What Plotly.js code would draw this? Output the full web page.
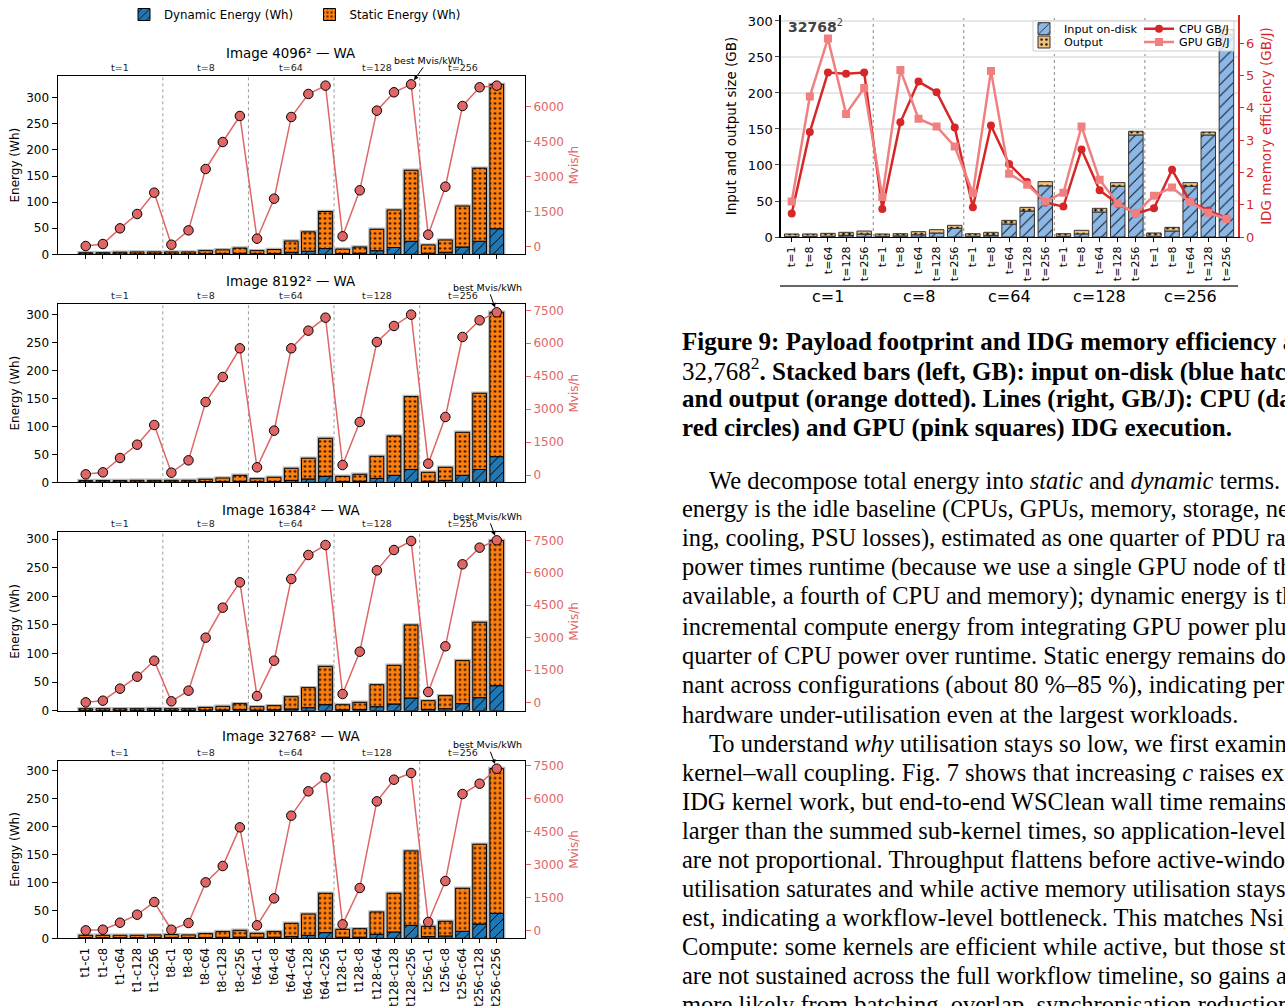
<!DOCTYPE html>
<html><head><meta charset="utf-8">
<script src="https://cdn.plot.ly/plotly-3.0.1.min.js"></script>
<style>html,body{margin:0;padding:0;background:#fff}#chart{width:1285px;height:1006px}</style>
</head><body><div id="chart"></div>
<script>
// ---------------- DATA ----------------
const runLabels = ['t1-c1','t1-c8','t1-c64','t1-c128','t1-c256','t8-c1','t8-c8','t8-c64','t8-c128','t8-c256',
  't64-c1','t64-c8','t64-c64','t64-c128','t64-c256','t128-c1','t128-c8','t128-c64','t128-c128','t128-c256',
  't256-c1','t256-c8','t256-c64','t256-c128','t256-c256'];
const tGroups = ['t=1','t=8','t=64','t=128','t=256'];
const cGroups = ['c=1','c=8','c=64','c=128','c=256'];

// Energy (Wh): dynamic and static parts; throughput (Mvis/h)
const dyn4096 = [0.5,0.5,0.6,0.7,0.8, 0.6,0.7,1.0,1.2,1.8, 1.0,1.5,4,6,11, 1.5,2,7,13,25, 2,4,14,25,49];
const sta4096 = [2.5,2.5,3.4,3.8,3.7, 3.9,3.8,6.0,7.3,10.2, 6.0,7.5,21.5,37,71, 8.5,12,41,72,136, 16,23.5,78.5,140,276.5];
const mvis4096 = [28,114,784,1397,2309, 85,698,3320,4474,5587, 342,2052,5544,6527,6883, 442,2408,5815,6599,6940, 513,2565,6013,6812,6883];

const dyn8192 = [0.5,0.5,0.5,0.6,0.7, 0.6,0.7,1.0,1.2,1.8, 1.0,1.5,3.5,6,10.7, 1.5,2,7,12.5,23, 2,3.5,12.5,23,45.8];
const sta8192 = [2.5,2.5,2.5,2.9,2.8, 2.9,2.8,4.4,6.5,10.7, 5.5,7.5,21.5,37,67.8, 9.2,12.3,39.4,70.2,130, 15.9,23.3,76.8,136,257.8];
const mvis8192 = [30,121,774,1381,2277, 106,668,3325,4463,5769, 349,2019,5769,6573,7165, 455,2414,6057,6786,7302, 516,2641,6285,7044,7408];

const dyn16384 = [0.5,0.5,0.5,0.6,0.7, 0.6,0.7,1.0,1.2,1.8, 1.0,1.5,3,5.3,10.5, 1.5,2,7,11.7,22.2, 2.3,3.5,12.3,22.8,43.8];
const sta16384 = [3.0,3.0,3.0,2.9,3.3, 2.9,2.8,4.8,6.4,10.5, 6.0,7.3,21.5,35,67.1, 9.0,12.6,38.5,67.7,127.8, 15.2,22.8,75.3,131.9,253.9];
const mvis16384 = [15,92,647,1201,1940, 62,554,3003,4389,5560, 308,1940,5714,6822,7284, 400,2356,6114,7053,7469, 493,2603,6391,7161,7500];

const dyn32768 = [1,1,1,1,1.2, 1.2,1.2,1.5,1.8,2.2, 2,2,3,5.4,10.2, 2,2,7.2,11.4,23.3, 3,4.2,12.6,25.7,44.8];
const sta32768 = [4.4,4.4,4.4,4.4,4.8, 5.4,4.8,6.9,10.2,12.1, 7,10,23.9,38.2,70.5, 14.1,15.3,40,69.3,133.3, 18.5,26.3,77.1,142.9,259.4];
const mvis32768 = [15,45,363,726,1300, 45,348,2192,2933,4687, 242,1467,5216,6320,6940, 287,1935,5866,6849,7152, 393,2253,6199,6667,7348];

// Figure 9 (32768^2): sizes in GB, efficiency in GB/J; order c=1..256, within each t=1..256
const inputGB  = [0.5,0.8,1,2,4, 1,1.5,3,5.5,12, 1,2,18,36,71, 1,4.2,34.7,70.4,141.7, 1,8.3,70.4,141.7,281];
const outputGB = [3.7,3.4,4.1,4.5,4.3, 3.2,3.1,4.4,4.7,4.2, 3.6,4.5,5.1,5.2,5.9, 3.6,5.1,5.1,5.1,5.1, 4.6,5.1,5.1,4.1,7];
const cpuGBJ = [0.73,3.25,5.09,5.05,5.09, 0.87,3.55,4.81,4.48,3.39, 0.92,3.45,2.26,1.70,1.07, 0.94,2.71,1.45,1.02,0.73, 0.89,2.08,1.09,0.82,0.58];
const gpuGBJ = [1.10,4.35,6.14,3.81,4.61, 1.24,5.17,3.66,3.42,2.80, 1.36,5.14,1.96,1.62,1.10, 1.37,3.42,1.77,1.04,0.73, 1.28,1.53,1.08,0.75,0.56];

// ---------------- BUILD ----------------
const FONT = 'DejaVu Sans';
const SERIF = 'Liberation Serif';
const W = 1285, H = 1006;
const px = v => v / W, py = v => 1 - v / H;
const idx = runLabels.map((_, i) => i);
const seps = [4.5, 9.5, 14.5, 19.5];
const MV = '#e06666';
const BLUE = '#1f77b4', ORANGE = '#ff7f0e', INBLUE = '#8cb8e8', OUTTAN = '#f0c27c';

const panels = [
  {size:'4096', dyn:dyn4096, sta:sta4096, mvis:mvis4096, top:76, bot:254.3, yMax:341.6, y2:[-325,7295], titleY:53.3, best:19, ax:17, ay:-24},
  {size:'8192', dyn:dyn8192, sta:sta8192, mvis:mvis8192, top:304, bot:482.3, yMax:318.4, y2:[-332,7787], titleY:281.7, best:24, ax:-9, ay:-25},
  {size:'16384', dyn:dyn16384, sta:sta16384, mvis:mvis16384, top:532.3, bot:710.7, yMax:312, y2:[-370,7870], titleY:510, best:24, ax:-9, ay:-24},
  {size:'32768', dyn:dyn32768, sta:sta32768, mvis:mvis32768, top:760.7, bot:938.3, yMax:318.4, y2:[-345,7710], titleY:736.7, best:24, ax:-9, ay:-24}
];

const traces = [];
const layout = {
  width: W, height: H, margin: {l:0, r:0, t:0, b:0}, autosize: false,
  paper_bgcolor: '#fff', plot_bgcolor: 'rgba(0,0,0,0)', barmode: 'overlay',
  font: {family: FONT, color: '#000'}, showlegend: true,
  shapes: [], annotations: []
};

panels.forEach((p, i) => {
  const k = i + 1;
  const xa = k === 1 ? 'x' : 'x' + k;
  const ya = k === 1 ? 'y' : 'y' + k;
  const ya2 = 'y' + (k + 4);
  const tot = p.dyn.map((d, j) => d + p.sta[j]);
  traces.push({type:'bar', x:idx, y:tot, base:0, width:0.8, xaxis:xa, yaxis:ya, showlegend:false, hoverinfo:'skip',
    marker:{color:'rgba(0,0,0,0)', line:{color:'#b8b8b8', width:3.5}}});
  traces.push({type:'bar', x:idx, y:p.dyn, base:0, width:0.8, xaxis:xa, yaxis:ya, name:'Dynamic Energy (Wh)',
    legend:'legend', showlegend:k === 1,
    marker:{color:BLUE, line:{color:'#000', width:1},
      pattern:{shape:'/', fgcolor:'#000', bgcolor:BLUE, fillmode:'replace', size:7, solidity:0.14}}});
  traces.push({type:'bar', x:idx, y:p.sta, base:p.dyn, width:0.8, xaxis:xa, yaxis:ya, name:'Static Energy (Wh)',
    legend:'legend', showlegend:k === 1,
    marker:{color:ORANGE, line:{color:'#000', width:1},
      pattern:{shape:'.', fgcolor:'#000', bgcolor:ORANGE, fillmode:'replace', size:5, solidity:0.16}}});
  traces.push({type:'scatter', mode:'lines+markers', x:idx, y:p.mvis, xaxis:xa, yaxis:ya2, showlegend:false,
    line:{color:MV, width:1.5}, marker:{size:9.5, color:MV, line:{color:'#000', width:1}}});

  const dom = [py(p.bot), py(p.top)];
  layout['xaxis' + (k === 1 ? '' : k)] = {
    domain:[px(57.5), px(525)], range:[-1.65, 25.65], anchor:ya, tickmode:'array', tickvals:idx,
    ticktext: k === 4 ? runLabels : idx.map(() => ' '), showticklabels: k === 4, tickangle:-90,
    ticks:'outside', ticklen:4, tickcolor:'#000', showline:true, linecolor:'#000', linewidth:1, mirror:true,
    showgrid:false, zeroline:false, tickfont:{size:11.5, family:FONT, color:'#000'}
  };
  layout['yaxis' + (k === 1 ? '' : k)] = {
    domain:dom, range:[0, p.yMax], anchor:xa, tickmode:'array', tickvals:[0,50,100,150,200,250,300],
    ticks:'outside', ticklen:5, tickcolor:'#000', showline:true, linecolor:'#000', showgrid:false, zeroline:false,
    tickfont:{size:12, family:FONT}, title:{text:'Energy (Wh)', font:{size:12, family:FONT}, standoff:3}
  };
  const rt = [0,1500,3000,4500,6000,7500].filter(v => v <= p.y2[1]);
  layout['yaxis' + (k + 4)] = {
    overlaying:ya, side:'right', anchor:xa, range:p.y2, tickmode:'array', tickvals:rt,
    ticks:'outside', ticklen:5, tickcolor:MV, showline:true, linecolor:'#000', showgrid:false, zeroline:false,
    tickfont:{size:12, family:FONT, color:MV}, title:{text:'Mvis/h', font:{size:12, family:FONT, color:MV}, standoff:6}
  };
  seps.forEach(s => layout.shapes.push({type:'line', xref:xa, yref:ya + ' domain', x0:s, x1:s, y0:0, y1:1,
    layer:'below', line:{color:'#999', width:1, dash:'dot'}}));
  tGroups.forEach((g, j) => layout.annotations.push({xref:xa, yref:ya + ' domain', x:j * 5 + 2, y:1, yanchor:'bottom',
    xanchor:'center', yshift:1, showarrow:false, text:g, font:{size:9.5, family:FONT, color:'#222'}}));
  layout.annotations.push({xref:'paper', yref:'paper', x:(px(57.5) + px(525)) / 2, y:py(p.titleY), yanchor:'middle',
    xanchor:'center', showarrow:false, text:'Image ' + p.size + '² — WA', font:{size:13.4, family:FONT}});
  layout.annotations.push({xref:xa, yref:ya2, x:p.best, y:p.mvis[p.best], ax:p.ax, ay:p.ay, showarrow:true,
    arrowhead:2, arrowsize:0.9, arrowwidth:1, arrowcolor:'#000', standoff:5, text:'best Mvis/kWh',
    font:{size:9.5, family:FONT, color:'#000'}});
});

// Figure 9 chart
const figTicks = cGroups.flatMap(() => tGroups);
traces.push({type:'bar', x:idx, y:inputGB, base:0, width:0.8, xaxis:'x5', yaxis:'y9', name:'Input on-disk', legend:'legend2',
  marker:{color:INBLUE, line:{color:'#333', width:1},
    pattern:{shape:'/', fgcolor:'#111', bgcolor:INBLUE, fillmode:'replace', size:8, solidity:0.12}}});
traces.push({type:'scatter', mode:'lines+markers', x:idx, y:cpuGBJ, xaxis:'x5', yaxis:'y10', name:'CPU GB/J', legend:'legend2',
  line:{color:'#d62728', width:2.5}, marker:{symbol:'circle', size:8, color:'#d62728'}});
traces.push({type:'bar', x:idx, y:outputGB, base:inputGB, width:0.8, xaxis:'x5', yaxis:'y9', name:'Output', legend:'legend3',
  marker:{color:OUTTAN, line:{color:'#333', width:1},
    pattern:{shape:'.', fgcolor:'#111', bgcolor:OUTTAN, fillmode:'replace', size:6, solidity:0.2}}});
traces.push({type:'scatter', mode:'lines+markers', x:idx, y:gpuGBJ, xaxis:'x5', yaxis:'y10', name:'GPU GB/J', legend:'legend3',
  line:{color:'#f08080', width:2.5}, marker:{symbol:'square', size:8, color:'#f08080'}});

layout.xaxis5 = {domain:[px(780.5), px(1238)], range:[-0.62, 24.64], anchor:'y9', tickmode:'array', tickvals:idx,
  ticktext:figTicks, tickangle:-90, ticks:'outside', ticklen:4, tickcolor:'#000', showline:true, linecolor:'#000',
  linewidth:1.2, showgrid:false, zeroline:false, tickfont:{size:11, family:FONT}};
layout.yaxis9 = {domain:[py(237), py(15)], range:[0, 308.3], anchor:'x5', tickmode:'array',
  tickvals:[0,50,100,150,200,250,300], ticks:'outside', ticklen:4, showline:true, linecolor:'#000', linewidth:1.2,
  showgrid:true, gridcolor:'#e6e6e6', gridwidth:1.5, zeroline:false, tickfont:{size:13, family:FONT},
  title:{text:'Input and output size (GB)', font:{size:13.5, family:FONT}, standoff:8}};
layout.yaxis10 = {overlaying:'y9', side:'right', anchor:'x5', range:[0, 6.87], tickmode:'array', tickvals:[0,1,2,3,4,5,6],
  ticks:'outside', ticklen:4, tickcolor:'#d62728', showline:true, linecolor:'#d62728', linewidth:1.5, showgrid:false,
  zeroline:false, tickfont:{size:13, family:FONT, color:'#d62728'},
  title:{text:'IDG memory efficiency (GB/J)', font:{size:13.5, family:FONT, color:'#d62728'}, standoff:8}};
seps.forEach(s => layout.shapes.push({type:'line', xref:'x5', yref:'y9 domain', x0:s, x1:s, y0:0, y1:1,
  layer:'below', line:{color:'#888', width:1, dash:'dot'}}));
layout.shapes.push({type:'line', xref:'paper', yref:'paper', x0:px(780), x1:px(1238), y0:py(286), y1:py(286),
  line:{color:'#333', width:1.5}});
layout.shapes.push({type:'rect', xref:'paper', yref:'paper', x0:px(1033), x1:px(1234), y0:py(21), y1:py(51),
  layer:'above', fillcolor:'rgba(255,255,255,0.8)', line:{color:'#d0d0d0', width:1}});
cGroups.forEach((c, j) => layout.annotations.push({xref:'x5', yref:'paper', x:j * 5 + 2, y:py(296), yanchor:'middle',
  xanchor:'center', showarrow:false, text:c, font:{size:16, family:FONT}}));
layout.annotations.push({xref:'paper', yref:'paper', x:px(786), y:py(26), xanchor:'left', yanchor:'middle', showarrow:false,
  text:'<b>32768</b><sup>2</sup>', font:{size:14, family:FONT, color:'#444'}});

// Legends
layout.legend = {x:px(124), y:py(0), xanchor:'left', yanchor:'top', orientation:'h', bgcolor:'rgba(0,0,0,0)',
  font:{size:11.8, family:FONT}, entrywidth:140.5, entrywidthmode:'pixels'};
layout.legend2 = {x:px(1024), y:py(14.2), xanchor:'left', yanchor:'top', orientation:'h', bgcolor:'rgba(0,0,0,0)',
  font:{size:11.2, family:FONT}, entrywidth:70, entrywidthmode:'pixels'};
layout.legend3 = {x:px(1024), y:py(27.5), xanchor:'left', yanchor:'top', orientation:'h', bgcolor:'rgba(0,0,0,0)',
  font:{size:11.2, family:FONT}, entrywidth:70, entrywidthmode:'pixels'};

// Paper text
const captionLines = [
  '<b>Figure 9: Payload footprint and IDG memory efficiency at</b>',
  '32,768<sup>2</sup><b>. Stacked bars (left, GB): input on-disk (blue hatched)</b>',
  '<b>and output (orange dotted). Lines (right, GB/J): CPU (dark</b>',
  '<b>red circles) and GPU (pink squares) IDG execution.</b>'
];
const bodyLines = [
  'We decompose total energy into <i>static</i> and <i>dynamic</i> terms. Static',
  'energy is the idle baseline (CPUs, GPUs, memory, storage, network-',
  'ing, cooling, PSU losses), estimated as one quarter of PDU rack',
  'power times runtime (because we use a single GPU node of the four',
  'available, a fourth of CPU and memory); dynamic energy is the',
  'incremental compute energy from integrating GPU power plus one',
  'quarter of CPU power over runtime. Static energy remains domi-',
  'nant across configurations (about 80 %–85 %), indicating persistent',
  'hardware under-utilisation even at the largest workloads.',
  'To understand <i>why</i> utilisation stays so low, we first examine',
  'kernel–wall coupling. Fig. 7 shows that increasing <i>c</i> raises explicit',
  'IDG kernel work, but end-to-end WSClean wall time remains much',
  'larger than the summed sub-kernel times, so application-level gains',
  'are not proportional. Throughput flattens before active-window',
  'utilisation saturates and while active memory utilisation stays mod-',
  'est, indicating a workflow-level bottleneck. This matches Nsight',
  'Compute: some kernels are efficient while active, but those stages',
  'are not sustained across the full workflow timeline, so gains are',
  'more likely from batching, overlap, synchronisation reduction,'
];
const captionY = [341, 370, 399, 428];
const bodyY = [480, 509, 538, 567, 596, 626, 655, 685, 714, 743, 772, 801, 830, 859, 888, 917, 946, 975, 1004];
const indented = [0, 9];
captionLines.forEach((t, j) => layout.annotations.push({xref:'paper', yref:'paper', x:px(680), y:py(captionY[j]),
  xanchor:'left', yanchor:'middle', showarrow:false, text:t, font:{size:25, family:SERIF, color:'#000'}}));
bodyLines.forEach((t, j) => layout.annotations.push({xref:'paper', yref:'paper',
  x:px(indented.includes(j) ? 707 : 680), y:py(bodyY[j]), xanchor:'left', yanchor:'middle', showarrow:false,
  text:t, font:{size:24.5, family:SERIF, color:'#000'}}));

Plotly.newPlot('chart', traces, layout, {displayModeBar:false, staticPlot:true});
</script></body></html>
